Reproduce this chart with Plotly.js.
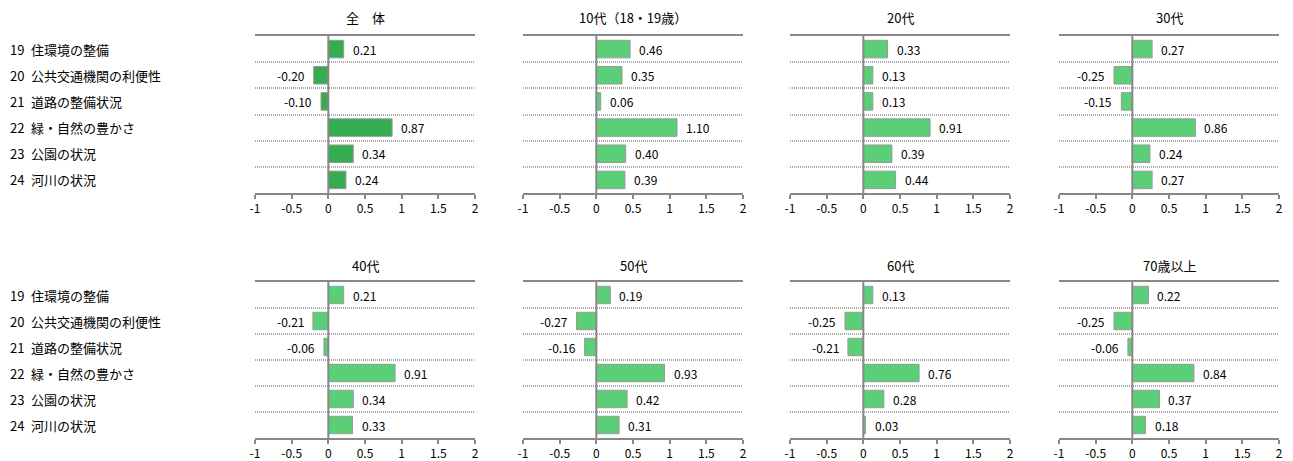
<!DOCTYPE html>
<html><head><meta charset="utf-8">
<script src="https://cdn.plot.ly/plotly-3.0.1.min.js"></script>
<style>html,body{margin:0;padding:0;background:#fff;}#chart{width:1293px;height:461px;}</style>
</head><body><div id="chart"></div>
<script>
const categories = ["19 住環境の整備","20 公共交通機関の利便性","21 道路の整備状況","22 緑・自然の豊かさ","23 公園の状況","24 河川の状況"];
const panelTitles = ["全　体","10代（18・19歳）","20代","30代","40代","50代","60代","70歳以上"];
const vAll   = [0.21,-0.20,-0.10,0.87,0.34,0.24];
const v10    = [0.46,0.35,0.06,1.10,0.40,0.39];
const v20    = [0.33,0.13,0.13,0.91,0.39,0.44];
const v30    = [0.27,-0.25,-0.15,0.86,0.24,0.27];
const v40    = [0.21,-0.21,-0.06,0.91,0.34,0.33];
const v50    = [0.19,-0.27,-0.16,0.93,0.42,0.31];
const v60    = [0.13,-0.25,-0.21,0.76,0.28,0.03];
const v70    = [0.22,-0.25,-0.06,0.84,0.37,0.18];
const tickVals = [-1,-0.5,0,0.5,1,1.5,2];
const tickText = ["-1","-0.5","0","0.5","1","1.5","2"];

const series = [vAll,v10,v20,v30,v40,v50,v60,v70];
const W = 1293, H = 461;
const colX0 = [255,523,790,1059], colW = 220;
const rowTop = [36,282], rowBot = [193,438];
const titleY = [18,265];
const font = "'Noto Sans CJK JP', 'Noto Sans', sans-serif";

const yIdx = categories.map((c,i)=>i);
const data = [], annotations = [];
const layout = {
  width: W, height: H, margin:{l:0,r:0,t:0,b:0},
  paper_bgcolor:'#fff', plot_bgcolor:'#fff', showlegend:false,
  font:{family:font, size:12, color:'#000'}
};
series.forEach((vals,k)=>{
  const r = Math.floor(k/4), c = k%4;
  const n = k+1, xa = n===1?'x':'x'+n, ya = n===1?'y':'y'+n;
  const xKey = n===1?'xaxis':'xaxis'+n, yKey = n===1?'yaxis':'yaxis'+n;
  layout[xKey] = {
    domain:[colX0[c]/W,(colX0[c]+colW)/W], anchor:ya, range:[-1,2],
    tickvals:tickVals, ticktext:tickText, ticks:'outside', ticklen:4, tickwidth:2, tickcolor:'#888',
    showline:true, linecolor:'#888', linewidth:2, mirror:true,
    showgrid:false, zeroline:false, fixedrange:true,
    tickfont:{size:12, color:'#000', family:font}
  };
  layout[yKey] = {
    domain:[1-rowBot[r]/H, 1-rowTop[r]/H], anchor:xa, range:[5.5,-0.5],
    tickvals:[0.5,1.5,2.5,3.5,4.5], showticklabels:false, ticks:'',
    showgrid:true, gridcolor:'#aaa', gridwidth:2, griddash:'1px,1px',
    zeroline:false, showline:false, fixedrange:true
  };
  data.push({
    type:'bar', orientation:'h', x:vals, y:yIdx, xaxis:xa, yaxis:ya,
    width:0.67,
    marker:{color: k===0 ? '#33ad4f' : '#5acf78', line:{color:'#999', width:1}},
    hoverinfo:'skip'
  });
  data.push({
    type:'scatter', mode:'lines', x:[0,0], y:[-0.5,5.5], xaxis:xa, yaxis:ya,
    line:{color:'#888', width:2}, hoverinfo:'skip'
  });
  vals.forEach((v,i)=>{
    annotations.push({
      xref:xa, yref:ya, x:v, y:i, text:v.toFixed(2), showarrow:false,
      xanchor: v<0 ? 'right':'left', xshift: v<0 ? -7 : 7,
      font:{size:12, color:'#000', family:font}
    });
  });
  annotations.push({
    xref:'paper', yref:'paper', x:(colX0[c]+colW/2)/W, y:1-titleY[r]/H,
    text:panelTitles[k], showarrow:false, xanchor:'center', yanchor:'middle',
    font:{size:13, color:'#000', family:font}
  });
});
[0,1].forEach(r=>{
  categories.forEach((cat,i)=>{
    const rh = (rowBot[r]-rowTop[r])/6;
    annotations.push({
      xref:'paper', yref:'paper', x:8/W, y:1-(rowTop[r]+rh*(i+0.5))/H,
      text:cat.replace(' ', '\u2002'), showarrow:false, xanchor:'left', yanchor:'middle',
      font:{size:13, color:'#000', family:font}
    });
  });
});
layout.annotations = annotations;
Plotly.newPlot('chart', data, layout, {staticPlot:true, displayModeBar:false});
</script></body></html>
